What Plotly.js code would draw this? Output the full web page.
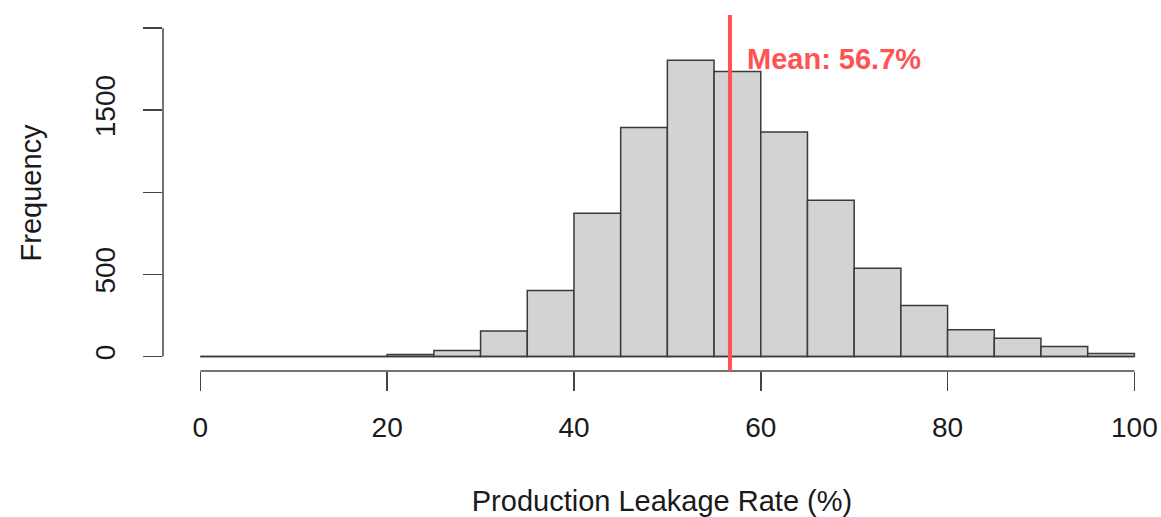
<!DOCTYPE html>
<html>
<head>
<meta charset="utf-8">
<script src="https://cdn.plot.ly/plotly-3.0.1.min.js"></script>
<style>html,body{margin:0;padding:0;background:#fff;}#chart{width:1161px;height:517px;}</style>
</head>
<body>
<div id="chart"></div>
<script>
// Histogram bins (left edges, %), bin width 5
const binLeft = [0,5,10,15,20,25,30,35,40,45,50,55,60,65,70,75,80,85,90,95];
const binWidth = 5;
const counts = [0,0,0,0,12,37,156,402,873,1395,1805,1736,1367,952,538,311,163,112,61,18];
const meanValue = 56.7;
const meanLabel = "Mean: 56.7%";
const xTickVals = [0,20,40,60,80,100];
const xTickText = ["0","20","40","60","80","100"];
const yTickVals = [0,500,1000,1500,2000];
const yTickText = ["0","500","","1500",""];
const xTitle = "Production Leakage Rate (%)";
const yTitle = "Frequency";

const centers = binLeft.map(l => l + binWidth/2);
const FONT = "Liberation Sans, Arial, Helvetica, sans-serif";

const trace = {
  type: "bar",
  x: centers,
  y: counts,
  width: binWidth,
  marker: {color: "#d3d3d3", line: {color: "#3a3a3a", width: 1.5}},
  hoverinfo: "x+y"
};

const layout = {
  width: 1161, height: 517,
  margin: {l: 163, r: 0, t: 15, b: 146},
  paper_bgcolor: "#ffffff", plot_bgcolor: "#ffffff",
  showlegend: false,
  bargap: 0,
  font: {family: FONT, color: "#1a1a1a", size: 28},
  xaxis: {
    range: [-4, 102.85],
    tickvals: xTickVals, ticktext: xTickText,
    ticks: "outside", ticklen: 19, tickwidth: 1.5, tickcolor: "#444",
    showline: false, showgrid: false, zeroline: false,
    tickfont: {family: FONT, size: 28, color: "#1a1a1a"},
    ticklabelstandoff: 12,
    title: {text: xTitle, font: {family: FONT, size: 29, color: "#1a1a1a"}, standoff: 58},
    automargin: false, fixedrange: true
  },
  yaxis: {
    range: [-88, 2080],
    tickvals: yTickVals, ticktext: yTickText,
    ticks: "outside", ticklen: 19, tickwidth: 1.5, tickcolor: "#444",
    tickangle: -90,
    showline: false, showgrid: false, zeroline: false,
    tickfont: {family: FONT, size: 28, color: "#1a1a1a"},
    ticklabelstandoff: 17,
    title: {text: yTitle, font: {family: FONT, size: 29, color: "#1a1a1a"}, standoff: 39},
    automargin: false, fixedrange: true
  },
  shapes: [
    // x axis line from first to last tick
    {type: "line", xref: "x", yref: "paper", x0: xTickVals[0], x1: xTickVals[xTickVals.length-1], y0: 0, y1: 0,
     line: {color: "#444", width: 1.5}},
    // y axis line from first to last tick
    {type: "line", xref: "paper", yref: "y", x0: 0, x1: 0, y0: yTickVals[0], y1: yTickVals[yTickVals.length-1],
     line: {color: "#444", width: 1.5}},
    // histogram baseline (zero-height bins)
    {type: "line", xref: "x", yref: "y", x0: binLeft[0], x1: binLeft[binLeft.length-1] + binWidth, y0: 0, y1: 0,
     line: {color: "#3a3a3a", width: 1.5}},
    // mean line
    {type: "line", xref: "x", yref: "paper", x0: meanValue, x1: meanValue, y0: 0, y1: 1,
     line: {color: "#ff5252", width: 4}, layer: "above"}
  ],
  annotations: [
    {xref: "x", yref: "y", x: meanValue + 1.6, y: 1815, text: "<b>" + meanLabel + "</b>",
     showarrow: false, xanchor: "left", yanchor: "middle",
     font: {family: FONT, size: 29, color: "#ff5252"}}
  ]
};

Plotly.newPlot("chart", [trace], layout, {displayModeBar: false, staticPlot: true});
</script>
</body>
</html>
